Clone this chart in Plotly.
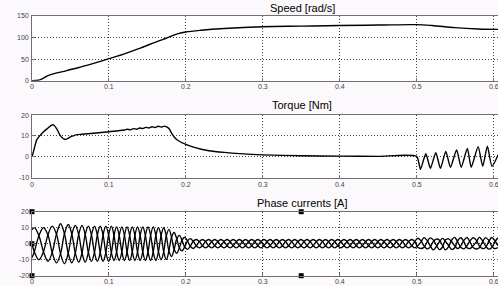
import plotly.graph_objects as go
from plotly.subplots import make_subplots

# ---------------- data ----------------
speed_t = [0, 0.005, 0.01, 0.015, 0.02, 0.03, 0.04, 0.05, 0.06, 0.08, 0.1, 0.12, 0.14, 0.16,
           0.175, 0.19, 0.2, 0.22, 0.25, 0.3, 0.35, 0.4, 0.45, 0.5, 0.52, 0.55, 0.58, 0.606]
speed_v = [0, 0.5, 2, 6, 11, 17, 21, 26, 30, 40, 51, 62, 75, 89,
           99, 109, 113, 117, 121, 125, 126.5, 128, 129, 130, 128, 123, 120, 119]

torque_t = [0, 0.003, 0.006, 0.01, 0.015, 0.02, 0.025, 0.028, 0.032, 0.037, 0.043, 0.05, 0.057,
            0.065, 0.08, 0.1, 0.12, 0.124, 0.128, 0.132, 0.136, 0.14, 0.144, 0.148, 0.152, 0.156,
            0.16, 0.164, 0.168, 0.172, 0.175, 0.178, 0.182, 0.186, 0.19, 0.2, 0.21, 0.22, 0.23,
            0.25, 0.27, 0.3, 0.35, 0.4, 0.45, 0.5, 0.505, 0.512, 0.518, 0.525, 0.531, 0.538,
            0.544, 0.552, 0.558, 0.566, 0.571, 0.58, 0.586, 0.592, 0.598, 0.606]
torque_v = [0, 4, 8, 10, 12, 13.5, 15, 15.3, 13.5, 10, 8.3, 9.5, 10.5,
            10.8, 11.3, 12, 12.8, 13.2, 12.9, 13.5, 13.2, 13.8, 13.5, 14.1, 13.8, 14.4,
            14.0, 14.6, 14.2, 14.7, 14.3, 13.5, 11, 9, 7.8, 5.9, 4.6, 3.6, 2.9,
            2.1, 1.5, 0.9, 0.5, 0.3, 0.2, 0.2, -6, 1.5, -5.5, 2, -5.5, 2.6,
            -5, 3.3, -5, 4, -5, 4.8, -4.5, 5.1, -4.5, 1]

cur_t = [0, 0.003, 0.009, 0.0149, 0.0207, 0.0263, 0.0318, 0.0371, 0.0422, 0.0471, 0.0518,
         0.0563, 0.0607, 0.065, 0.0692, 0.0733, 0.0773, 0.0812, 0.085, 0.0887, 0.0924,
         0.096, 0.0996, 0.1032, 0.1066, 0.11, 0.1134, 0.1168, 0.1202, 0.1236, 0.127,
         0.1304, 0.1338, 0.1372, 0.1406, 0.144, 0.1474, 0.1508, 0.1542, 0.1576, 0.161,
         0.1644, 0.1678, 0.1712, 0.1746, 0.178, 0.1814, 0.1848, 0.1882, 0.1916, 0.195,
         0.1985, 0.2021, 0.2058, 0.2096,
         0.2136, 0.2176, 0.2216, 0.2256, 0.2296, 0.2336, 0.2376, 0.2416, 0.2456, 0.2496,
         0.2536, 0.2576, 0.2616, 0.2656, 0.2696, 0.2736, 0.2776, 0.2816, 0.2856, 0.2896,
         0.2936, 0.2976, 0.3016, 0.3056, 0.3096, 0.3136, 0.3176, 0.3216, 0.3256, 0.3296,
         0.3336, 0.3376, 0.3416, 0.3456, 0.3496, 0.3536, 0.3576, 0.3616, 0.3656, 0.3696,
         0.3736, 0.3776, 0.3816, 0.3856, 0.3896, 0.3936, 0.3976, 0.4016, 0.4056, 0.4096,
         0.4136, 0.4176, 0.4216, 0.4256, 0.4296, 0.4336, 0.4376, 0.4416, 0.4456, 0.4496,
         0.4536, 0.4576, 0.4616, 0.4656, 0.4696, 0.4736, 0.4776, 0.4816, 0.4856, 0.4896,
         0.4936, 0.4976, 0.5016, 0.5056, 0.5096, 0.5136, 0.5176, 0.5216, 0.5256, 0.5296,
         0.5336, 0.5376, 0.5416, 0.5456, 0.5496, 0.5536, 0.5576, 0.5616, 0.5656, 0.5696,
         0.5736, 0.5776, 0.5816, 0.5856, 0.5896, 0.5936, 0.5976, 0.6016, 0.6056]

cur_a = [8.7, 10, 5, -5, -11, -5.5, 6, 12.5, 6.2, -6, -12,
         -5.8, 5.8, 11.5, 5.8, -5.5, -11, -5.5, 5.5, 11, 5.5,
         -5.5, -11, -5.5, 5.2, 10.5, 5.2, -5.2, -10.5, -5.2, 5.2,
         10.5, 5.2, -5.2, -10.5, -5.2, 5.2, 10.5, 5.2, -5.2, -10.5,
         -5, 5, 10, 5, -4.5, -8, -3.5, 3, 5.2, 2.2,
         -2, -3.5, -1.6, 1.5,
         2.6, 1.3, -1.3, -2.6, -1.3, 1.3, 2.6, 1.3, -1.3, -2.6, -1.3, 1.3,
         2.6, 1.3, -1.3, -2.6, -1.3, 1.3, 2.6, 1.3, -1.3, -2.6, -1.3, 1.3,
         2.6, 1.3, -1.3, -2.6, -1.3, 1.3, 2.6, 1.3, -1.3, -2.6, -1.3, 1.3,
         2.6, 1.3, -1.3, -2.6, -1.3, 1.3, 2.6, 1.3, -1.3, -2.6, -1.3, 1.3,
         2.6, 1.3, -1.3, -2.6, -1.3, 1.3, 2.6, 1.3, -1.3, -2.6, -1.3, 1.3,
         2.6, 1.3, -1.3, -2.6, -1.3, 1.3, 2.6, 1.3, -1.3, -2.6, -1.3, 1.3,
         3.4, 1.9, -1.3, -3.2, -2.2, 1.3, 2.9, 2.3, -1.0, -3.9, -1.9, 2.3,
         3.9, 1.0, -2.4, -3.2, -1.3, 1.9, 3.7, 2.2, -1.4, -3.0, -2.4, 1.1,
         3.9, 2.0, -1.2]
cur_b = [-8.7, -5, 5, 10, 5.5, -5.5, -12, -6.2, 6.2, 12, 6,
         -5.8, -11.5, -5.8, 5.8, 11, 5.5, -5.5, -11, -5.5, 5.5,
         11, 5.5, -5.5, -10.5, -5.2, 5.2, 10.5, 5.2, -5.2, -10.5,
         -5.2, 5.2, 10.5, 5.2, -5.2, -10.5, -5.2, 5.2, 10.5, 5.2,
         -5, -10, -5, 5, 9, 4, -3.5, -6, -2.6, 2.2,
         4, 1.8, -1.6, -3,
         -1.3, 1.3, 2.6, 1.3, -1.3, -2.6, -1.3, 1.3, 2.6, 1.3, -1.3, -2.6,
         -1.3, 1.3, 2.6, 1.3, -1.3, -2.6, -1.3, 1.3, 2.6, 1.3, -1.3, -2.6,
         -1.3, 1.3, 2.6, 1.3, -1.3, -2.6, -1.3, 1.3, 2.6, 1.3, -1.3, -2.6,
         -1.3, 1.3, 2.6, 1.3, -1.3, -2.6, -1.3, 1.3, 2.6, 1.3, -1.3, -2.6,
         -1.3, 1.3, 2.6, 1.3, -1.3, -2.6, -1.3, 1.3, 2.6, 1.3, -1.3, -2.6,
         -1.3, 1.3, 2.6, 1.3, -1.3, -2.6, -1.3, 1.3, 2.6, 1.3, -1.3, -2.6,
         -1.2, 1.0, 3.8, 2.1, -1.2, -3.9, -1.9, 1.2, 3.3, 1.4, -1.0, -3.6,
         -2.5, 2.0, 3.7, 1.1, -2.5, -3.0, -1.2, 1.1, 4.0, 1.9, -1.3, -3.4,
         -2.5, 1.0, 3.7]
cur_c = [0, -5, -10, -5, 5.5, 11, 6, -6.2, -12.5, -6, 6,
         11.5, 5.8, -5.8, -11.5, -5.5, 5.5, 11, 5.5, -5.5, -11,
         -5.5, 5.5, 11, 5.2, -5.2, -10.5, -5.2, 5.2, 10.5, 5.2,
         -5.2, -10.5, -5.2, 5.2, 10.5, 5.2, -5.2, -10.5, -5.2, 5.2,
         10, 5, -5, -10, -4.5, 4, 7, 3, -2.6, -4.5,
         -2, 1.8, 3.2, 1.5,
         -1.3, -2.6, -1.3, 1.3, 2.6, 1.3, -1.3, -2.6, -1.3, 1.3, 2.6, 1.3,
         -1.3, -2.6, -1.3, 1.3, 2.6, 1.3, -1.3, -2.6, -1.3, 1.3, 2.6, 1.3,
         -1.3, -2.6, -1.3, 1.3, 2.6, 1.3, -1.3, -2.6, -1.3, 1.3, 2.6, 1.3,
         -1.3, -2.6, -1.3, 1.3, 2.6, 1.3, -1.3, -2.6, -1.3, 1.3, 2.6, 1.3,
         -1.3, -2.6, -1.3, 1.3, 2.6, 1.3, -1.3, -2.6, -1.3, 1.3, 2.6, 1.3,
         -1.3, -2.6, -1.3, 1.3, 2.6, 1.3, -1.3, -2.6, -1.3, 1.3, 2.6, 1.3,
         -2.2, -3.0, -2.3, 1.0, 3.6, 2.4, -0.9, -3.7, -2.2, 2.4, 3.0, 1.2,
         -1.3, -3.1, -1.2, 2.1, 3.9, 1.0, -2.4, -3.3, -2.5, 1.0, 3.8, 2.2,
         -1.3, -3.1, -2.4]

marker_t = [0, 0, 0, 0.35, 0.35]
marker_v = [20, 0, -20, 20, -20]

x_ticks = [0, 0.1, 0.2, 0.3, 0.4, 0.5, 0.6]
x_labels = ["0", "0.1", "0.2", "0.3", "0.4", "0.5", "0.6"]
speed_ticks = [0, 50, 100, 150]
torque_ticks = [-10, 0, 10, 20]
cur_ticks = [-20, -10, 0, 10, 20]
titles = ["Speed [rad/s]", "Torque [Nm]", "Phase currents [A]"]

# ---------------- figure ----------------
FONT = "Liberation Sans, Arial, sans-serif"
W, H = 498, 286
L, R = 32, 0

fig = make_subplots(rows=3, cols=1)

line_kw = dict(color="black", width=1.4)
fig.add_trace(go.Scatter(x=speed_t, y=speed_v, mode="lines", line=dict(shape="spline", **line_kw),
                         showlegend=False), row=1, col=1)
fig.add_trace(go.Scatter(x=torque_t, y=torque_v, mode="lines",
                         line=dict(shape="spline", smoothing=0.6, **line_kw),
                         showlegend=False), row=2, col=1)
for ph in (cur_a, cur_b, cur_c):
    fig.add_trace(go.Scatter(x=cur_t, y=ph, mode="lines",
                             line=dict(shape="spline", smoothing=1.0, color="black", width=1.35),
                             showlegend=False), row=3, col=1)
fig.add_trace(go.Scatter(x=marker_t, y=marker_v, mode="markers",
                         marker=dict(symbol="square", size=5, color="black"),
                         cliponaxis=False, showlegend=False), row=3, col=1)

x_max = (W - L) / ((493.5 - L) / 0.6)

def py(ypix):
    return (H - ypix) / H

domains = [(py(80.7), py(16)), (py(177.7), py(115)), (py(275.7), py(211.7))]
yranges = [[0, 150], [-10, 20], [-20, 20]]
yticks = [speed_ticks, torque_ticks, cur_ticks]
xlabel_y = [87, 184, 281]

axis_common = dict(
    showline=True, linecolor="#707070", linewidth=1,
    showgrid=True, gridcolor="#404040", griddash="1px,2px", gridwidth=1,
    ticks="inside", ticklen=3, tickcolor="#707070",
    showticklabels=False, zeroline=False, automargin=False,
)
tick_font = dict(family=FONT, size=7, color="#444444")
for i in range(3):
    xa = "xaxis" if i == 0 else f"xaxis{i+1}"
    ya = "yaxis" if i == 0 else f"yaxis{i+1}"
    xref = "x" if i == 0 else f"x{i+1}"
    yref = "y" if i == 0 else f"y{i+1}"
    fig.layout[xa].update(range=[0, x_max], tickvals=x_ticks, mirror=True, **axis_common)
    fig.layout[ya].update(range=yranges[i], tickvals=yticks[i], domain=list(domains[i]),
                          mirror=False, **axis_common)
    # tick labels as text placed at the axis values
    for xv, xl in zip(x_ticks, x_labels):
        fig.add_annotation(text=xl, xref=xref, yref="paper", x=xv, y=py(xlabel_y[i]),
                           xanchor="center", yanchor="middle", showarrow=False,
                           font=tick_font)
    for yv in yticks[i]:
        fig.add_annotation(text=str(yv), xref="paper", yref=yref, x=0, y=yv,
                           xanchor="right", yanchor="middle", xshift=-1, showarrow=False,
                           font=tick_font)

title_y = [8, 105, 203]
px_per = (W - L)
for txt, yy in zip(titles, title_y):
    fig.add_annotation(text=txt, xref="paper", yref="paper", x=(302 - L) / px_per, y=py(yy),
                       xanchor="center", yanchor="middle", showarrow=False,
                       font=dict(family=FONT, size=11, color="black"))

fig.update_layout(width=W, height=H, margin=dict(l=L, r=R, t=0, b=0),
                  paper_bgcolor="#fcf9fc", plot_bgcolor="white",
                  font=dict(family=FONT, size=7, color="#333"))

fig.write_html("out.html", config={"displayModeBar": False},
               post_script="document.body.style.margin='0';document.body.style.overflow='hidden';")
